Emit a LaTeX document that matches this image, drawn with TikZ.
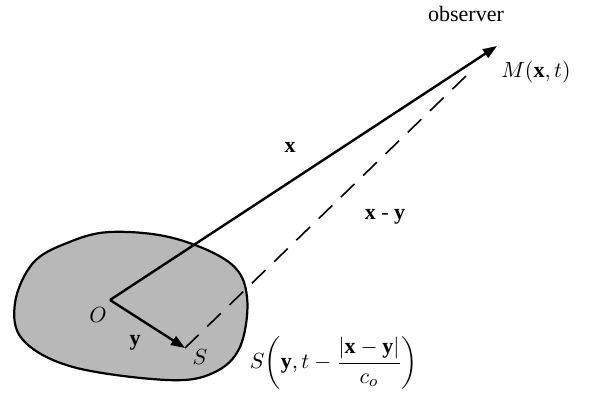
\documentclass[tikz,border=0pt]{standalone}
\usepackage{amsmath,amssymb}
\usepackage{fontspec}
\setmainfont{Liberation Serif}
\usetikzlibrary{arrows.meta}

\begin{document}
\begin{tikzpicture}[
  x=0.5pt,y=-0.5pt,
  font=\fontsize{11}{13}\selectfont,
  region/.style={draw,line width=1.1pt,fill=black!28},
  vec/.style={-{Triangle[length=7pt,width=5pt]},line width=1.2pt},
  ray/.style={line width=0.8pt,dash pattern=on 9.5pt off 6pt}
]
\useasboundingbox (0,0) rectangle (589,400);
% source region
\draw[region] plot[smooth cycle,tension=0.6] coordinates {
  (110,232) (173,238) (230,263) (247,297) (240,347) (213,373)
  (167,380) (73,367) (23,340) (15,303) (33,263) (67,243)};
\coordinate (O) at (110,300);
\coordinate (S) at (185,348);
\coordinate (M) at (497,46);
\coordinate (rayend) at (466,76);
\draw[vec] (O) -- (M);
\draw[vec] (O) -- (S);
\draw[ray] (S) -- (rayend);
% labels
\node (observer) at (466,14) {observer};
\node (Mlabel) at (536,72) {$M(\mathbf{x},t)$};
\node (xlabel) at (290,147) {$\mathbf{x}$};
\node (xylabel) at (385,217) {$\mathbf{x}$ - $\mathbf{y}$};
\node (Olabel) at (98,315) {$O$};
\node (ylabel) at (135,343) {$\mathbf{y}$};
\node (Slabel) at (200,357) {$S$};
\node (Sformula) at (334,363) {$S\!\left(\mathbf{y},t-\dfrac{|\mathbf{x}-\mathbf{y}|}{c_o}\right)$};
\end{tikzpicture}
\end{document}
